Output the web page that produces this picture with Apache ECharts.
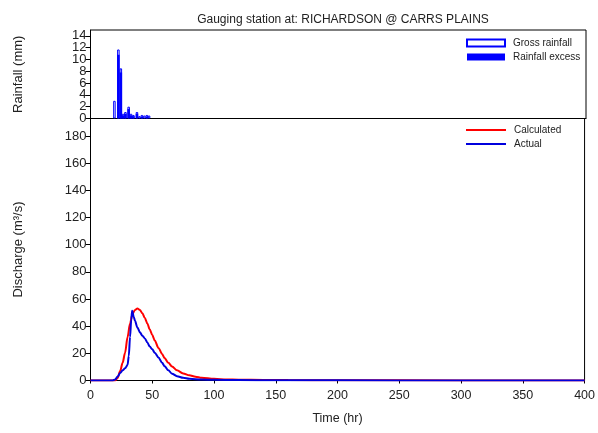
<!DOCTYPE html>
<html>
<head>
<meta charset="utf-8">
<script src="https://cdn.jsdelivr.net/npm/echarts@6/dist/echarts.min.js"></script>
<style>
  html, body { margin: 0; padding: 0; background: #fff; }
  #chart { width: 598px; height: 433px; }
</style>
</head>
<body>
<div id="chart"></div>
<script>
// Rainfall hyetograph: [time (hr), depth (mm)]
const grossRainfall = [
  [19.3, 3.0], [22.5, 11.7], [24.5, 8.5], [26.3, 0.8], [28.2, 1.1],
  [30.8, 2.0], [32.7, 0.8], [34.6, 0.6], [37.5, 1.1], [39.5, 0.4],
  [41.5, 0.6], [43.5, 0.5], [45.5, 0.6], [47.3, 0.5]
];
const rainfallExcess = [
  [22.5, 10.8], [24.5, 7.8], [26.3, 0.5], [28.2, 0.8], [30.8, 1.6],
  [32.7, 0.5], [34.6, 0.4], [37.5, 0.8], [41.5, 0.3], [45.5, 0.3]
];

// Hydrographs: [time (hr), discharge (m3/s)]
const calculatedFlow = [
  [0, 0], [20, 0], [22, 2], [24, 7], [26, 13], [28, 20.5], [30, 32],
  [32, 42], [34, 49], [36, 52], [38, 53], [40, 52], [42, 49.5], [44, 46],
  [46, 42], [48, 37.5], [50, 33.5], [52, 29.5], [55, 24], [58, 19.5],
  [60, 16.5], [63, 13], [66, 10.3], [70, 7.5], [75, 5.2], [80, 3.8],
  [85, 2.8], [90, 2], [100, 1.2], [110, 0.8], [120, 0.6], [140, 0.4],
  [160, 0.3], [200, 0.2], [300, 0.05], [400, 0]
];
const actualFlow = [
  [0, 0], [18, 0], [20, 0.8], [22, 3], [24, 5.5], [26, 7.5], [28, 9],
  [30, 11.5], [31, 18], [32, 32], [33, 45], [33.7, 51.3], [35, 47],
  [36, 44], [38, 39], [40, 35.5], [42, 33], [44, 31], [46, 28], [48, 25],
  [50, 23], [52, 20.5], [55, 17], [58, 13], [60, 10.5], [63, 7.5],
  [66, 5], [70, 3.2], [75, 2], [80, 1.3], [90, 0.7], [100, 0.5],
  [120, 0.3], [150, 0.2], [200, 0.1], [300, 0], [400, 0]
];

// Tick labels
const rainTicks = [0, 2, 4, 6, 8, 10, 12, 14];
const flowTicks = [0, 20, 40, 60, 80, 100, 120, 140, 160, 180];
const timeTicks = [0, 50, 100, 150, 200, 250, 300, 350, 400];

const FONT = '"Liberation Sans", Arial, sans-serif';
const INK = '#000';
const TXT = '#222';

// The rainfall ticks are packed tighter than the label height, so their
// labels are split over two overlaid axes (alternate ticks on each).
const rainLabelsA = rainTicks.filter((v, i) => i % 2 === 0);
const rainLabelsB = rainTicks.filter((v, i) => i % 2 === 1);

const chart = echarts.init(document.getElementById('chart'), null, { renderer: 'canvas' });

const axisCommon = {
  axisLine: { show: true, lineStyle: { color: INK, width: 1 } },
  axisTick: { show: true, inside: false, length: 5, lineStyle: { color: INK } },
  splitLine: { show: false },
  axisLabel: { color: TXT, fontFamily: FONT, fontSize: 13, margin: 4 }
};

function yLabels(values) {
  return {
    color: TXT, fontFamily: FONT, fontSize: 13, margin: 4,
    customValues: values, showMinLabel: true, showMaxLabel: true, hideOverlap: false
  };
}

chart.setOption({
  animation: false,
  backgroundColor: '#fff',
  title: {
    text: 'Gauging station at: RICHARDSON @ CARRS PLAINS',
    left: 338, top: 9, textAlign: 'center',
    textStyle: { fontFamily: FONT, fontSize: 12, fontWeight: 'normal', color: TXT }
  },
  legend: [
    {
      orient: 'vertical', left: 461, top: 33, itemWidth: 38, itemHeight: 7, itemGap: 4,
      icon: 'rect',
      data: ['Gross rainfall', 'Rainfall excess'],
      textStyle: { fontFamily: FONT, fontSize: 10, color: TXT, padding: [0, 0, 0, 3] },
      selectedMode: false
    },
    {
      orient: 'vertical', left: 461, top: 120, itemWidth: 40, itemHeight: 2, itemGap: 4,
      icon: 'rect',
      data: ['Calculated', 'Actual'],
      textStyle: { fontFamily: FONT, fontSize: 10, color: TXT, padding: [0, 0, 0, 3] },
      selectedMode: false
    }
  ],
  grid: [
    { left: 90.5, right: 12, top: 30, height: 88.5, show: true, borderColor: INK, borderWidth: 1, backgroundColor: 'transparent' },
    { left: 90.5, right: 12, top: 118.5, height: 262, show: true, borderColor: INK, borderWidth: 1, backgroundColor: 'transparent' }
  ],
  xAxis: [
    Object.assign({}, axisCommon, {
      gridIndex: 0, type: 'value', min: 0, max: 400,
      axisLabel: { show: false },
      axisTick: { show: false }
    }),
    Object.assign({}, axisCommon, {
      gridIndex: 1, type: 'value', min: 0, max: 400, interval: 50,
      name: 'Time (hr)', nameLocation: 'middle', nameGap: 32,
      nameTextStyle: { fontFamily: FONT, fontSize: 12.5, color: TXT },
      axisTick: { show: true, length: 3, lineStyle: { color: INK }, customValues: timeTicks },
      axisLabel: { color: TXT, fontFamily: FONT, fontSize: 12.5, margin: 9, customValues: timeTicks,
        showMinLabel: true, showMaxLabel: true }
    })
  ],
  yAxis: [
    Object.assign({}, axisCommon, {
      gridIndex: 0, type: 'value', min: 0, max: 15,
      name: 'Rainfall (mm)', nameLocation: 'middle', nameGap: 66,
      nameTextStyle: { fontFamily: FONT, fontSize: 13, color: TXT },
      axisTick: { show: true, length: 5, lineStyle: { color: INK }, customValues: rainTicks },
      axisLabel: yLabels(rainLabelsA)
    }),
    Object.assign({}, axisCommon, {
      gridIndex: 1, type: 'value', min: 0, max: 193,
      name: 'Discharge (m\u00B3/s)', nameLocation: 'middle', nameGap: 66,
      nameTextStyle: { fontFamily: FONT, fontSize: 13, color: TXT },
      axisTick: { show: true, length: 5, lineStyle: { color: INK }, customValues: flowTicks },
      axisLabel: yLabels(flowTicks)
    }),
    {
      gridIndex: 0, type: 'value', min: 0, max: 15, position: 'left', offset: 0,
      axisLine: { show: false }, axisTick: { show: false }, splitLine: { show: false },
      axisLabel: yLabels(rainLabelsB)
    }
  ],
  series: [
    {
      name: 'Gross rainfall', type: 'bar', xAxisIndex: 0, yAxisIndex: 0,
      data: grossRainfall, barWidth: 2.5, barGap: '-100%',
      itemStyle: { color: '#ffffff', borderColor: '#0000ff', borderWidth: 1 }
    },
    {
      name: 'Rainfall excess', type: 'bar', xAxisIndex: 0, yAxisIndex: 0,
      data: rainfallExcess, barWidth: 2.5, barGap: '-100%',
      itemStyle: { color: '#0000ff' }
    },
    {
      name: 'Calculated', type: 'line', xAxisIndex: 1, yAxisIndex: 1,
      data: calculatedFlow, showSymbol: false, symbol: 'none',
      smooth: 0.3, smoothMonotone: 'x',
      lineStyle: { color: '#ff0000', width: 2 }, itemStyle: { color: '#ff0000' }
    },
    {
      name: 'Actual', type: 'line', xAxisIndex: 1, yAxisIndex: 1,
      data: actualFlow, showSymbol: false, symbol: 'none',
      smooth: 0.3, smoothMonotone: 'x',
      lineStyle: { color: '#0000dd', width: 2 }, itemStyle: { color: '#0000dd' }
    }
  ]
});
</script>
</body>
</html>
